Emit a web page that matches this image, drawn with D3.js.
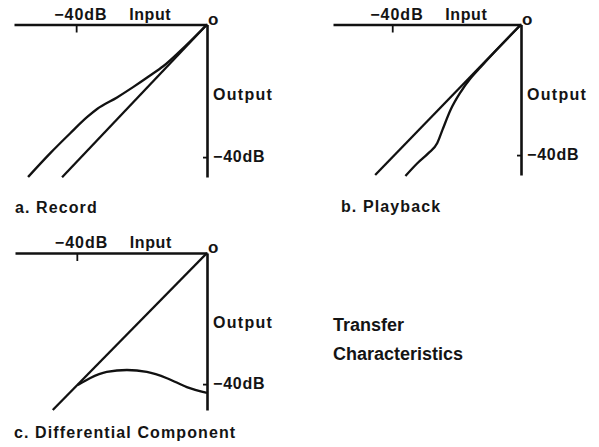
<!DOCTYPE html>
<html>
<head>
<meta charset="utf-8">
<script src="https://cdn.jsdelivr.net/npm/d3@7"></script>
<style>
  html, body { margin: 0; padding: 0; background: #fff; }
  svg { display: block; }
  text { font-family: "Liberation Sans", Arial, sans-serif; font-weight: bold; fill: #141414; }
</style>
</head>
<body>
<svg id="chart" width="599" height="447"></svg>
<script>
// ---- Data (dB input, dB output) ----
const recordLinear   = [[0, 0], [-44.3, -46.1]];
const recordCurve    = [[0, 0], [-8, -7.8], [-13.4, -12.6], [-17.4, -15.4], [-22.6, -18.9], [-27.5, -22.0],
                        [-33.6, -25.5], [-36.6, -27.9], [-41.8, -32.8], [-47.9, -38.8], [-54.7, -46.0]];
const playbackLinear = [[0, 0], [-45.3, -46.1]];
const playbackCurve  = [[0, 0], [-8, -8.2], [-12.5, -13.0], [-15.6, -16.4], [-18.75, -20.7], [-21.9, -26.2],
                        [-24.4, -32.3], [-26.0, -36.3], [-28.75, -39.4], [-32.2, -42.5], [-35.9, -46.4]];
const diffLinear     = [[0, 0], [-47.4, -47.9]];
const diffCurve      = [[-39.7, -40.3], [-36.0, -38.2], [-30.8, -36.3], [-24.6, -35.7], [-18.5, -36.3],
                        [-12.3, -38.2], [-6.2, -40.9], [0, -42.7]];
const tickValuesIn   = [-40];
const tickValuesOut  = [-40];
const inputTickLabel  = "\u221240dB";
const outputTickLabel = "\u221240dB";
const axisNames      = ["Input", "Output", "o"];
const panelTitles    = ["a.  Record", "b.  Playback", "c. Differential Component"];
const figureTitle    = ["Transfer", "Characteristics"];

// ---- Layout ----
const svg = d3.select("#chart");
const panels = [
  { title: panelTitles[0], linear: recordLinear,   curve: recordCurve,
    xDom: [-59, 0],   xRange: [14, 207],  yDom: [0, -46],   yRange: [24.5, 177], titleX: 15,  titleY: 213 },
  { title: panelTitles[1], linear: playbackLinear, curve: playbackCurve,
    xDom: [-58.4, 0], xRange: [333, 521], yDom: [0, -46.1], yRange: [24.5, 175], titleX: 341, titleY: 212 },
  { title: panelTitles[2], linear: diffLinear,     curve: diffCurve,
    xDom: [-59, 0],   xRange: [15, 207],  yDom: [0, -47.9], yRange: [253, 410], titleX: 14,  titleY: 438 }
];

panels.forEach(p => {
  const x = d3.scaleLinear().domain(p.xDom).range(p.xRange);
  const y = d3.scaleLinear().domain(p.yDom).range(p.yRange);
  const ax = x(0), ay = y(0);
  const g = svg.append("g");

  // Horizontal (input) axis along the top
  const xAxis = d3.axisTop(x).tickValues(tickValuesIn).tickSizeInner(-8).tickSizeOuter(0).tickFormat(() => "");
  g.append("g").attr("transform", `translate(0,${ay})`).call(xAxis)
    .call(s => s.selectAll("path,line").attr("stroke", "#111").attr("stroke-width", 2.6))
    .call(s => s.selectAll(".tick line").attr("stroke-width", 1.8));

  // Vertical (output) axis on the right
  const yAxis = d3.axisRight(y).tickValues(tickValuesOut).tickSizeInner(-4).tickSizeOuter(0).tickFormat(() => "");
  g.append("g").attr("transform", `translate(${ax},0)`).call(yAxis)
    .call(s => s.selectAll("path,line").attr("stroke", "#111").attr("stroke-width", 2.6))
    .call(s => s.selectAll(".tick line").attr("stroke-width", 1.8));

  // Curves
  const straight = d3.line().x(d => x(d[0])).y(d => y(d[1]));
  const smooth = d3.line().x(d => x(d[0])).y(d => y(d[1])).curve(d3.curveMonotoneX);
  g.append("path").attr("d", straight(p.linear))
    .attr("fill", "none").attr("stroke", "#111").attr("stroke-width", 2.3);
  const sorted = p.curve.slice().sort((a, b) => a[0] - b[0]);
  g.append("path").attr("d", smooth(sorted))
    .attr("fill", "none").attr("stroke", "#111").attr("stroke-width", 2.3);

  // Labels
  const lab = (txt, tx, ty, size, ls) => g.append("text").attr("x", tx).attr("y", ty)
    .attr("font-size", size).attr("letter-spacing", ls).text(txt);
  lab(inputTickLabel, x(tickValuesIn[0]) - 22, ay - 5, 16, 1);
  lab(axisNames[0], x(tickValuesIn[0]) + 53, ay - 5, 16, 0.6);
  lab(axisNames[2], ax + 1, ay, 17, 0);
  lab(axisNames[1], ax + 6, ay + 75, 16, 1.3);
  lab(outputTickLabel, ax + 6, y(tickValuesOut[0]) + 5, 16, 0.8);
  lab(p.title, p.titleX, p.titleY, 16, 1.1);
});

// Figure title
svg.append("text").attr("x", 333).attr("y", 331).attr("font-size", 18).text(figureTitle[0]);
svg.append("text").attr("x", 333).attr("y", 360).attr("font-size", 18).text(figureTitle[1]);
</script>
</body>
</html>
